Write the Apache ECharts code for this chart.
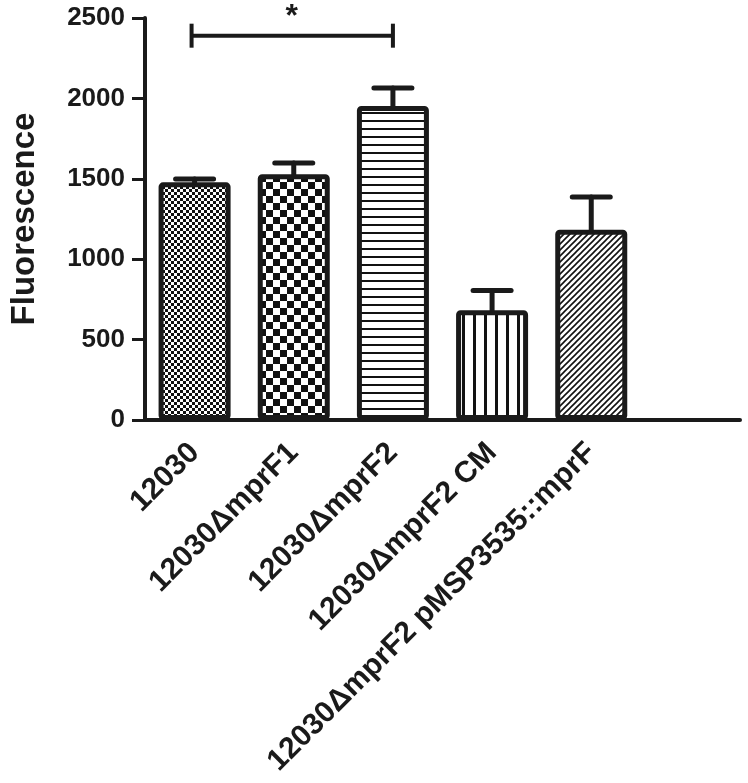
<!DOCTYPE html>
<html>
<head>
<meta charset="utf-8">
<title>Fluorescence</title>
<script src="https://cdn.jsdelivr.net/npm/echarts@6/dist/echarts.min.js"></script>
<style>
  html, body { margin: 0; padding: 0; background: #fff; }
  #main { width: 748px; height: 783px; }
</style>
</head>
<body>
<div id="main"></div>
<script>
// data
const strains = ['12030', '12030ΔmprF1', '12030ΔmprF2', '12030ΔmprF2 CM', '12030ΔmprF2 pMSP3535::mprF', ''];
const meanValues = [1478, 1528, 1953, 683, 1183, null];
const semValues = [20, 70, 112, 122, 204, null];
const yTicks = { min: 0, max: 2500, step: 500 };
// significance bracket: from category, to category, label
const sigPairs = [[0, 2, '*']];

const FONT = '"Liberation Sans", Arial, Helvetica, sans-serif';

// fill patterns (hatch/checker) drawn on small canvases
function makePattern(w, h, draw) {
  const c = document.createElement('canvas');
  c.width = w; c.height = h;
  const ctx = c.getContext('2d');
  ctx.fillStyle = '#fff';
  ctx.fillRect(0, 0, w, h);
  ctx.fillStyle = '#111';
  ctx.strokeStyle = '#111';
  draw(ctx, w, h);
  return { image: c, repeat: 'repeat' };
}
function checker(s) {
  return makePattern(s * 2, s * 2, (ctx) => {
    ctx.fillRect(0, 0, s, s);
    ctx.fillRect(s, s, s, s);
  });
}
const patterns = [
  checker(3),
  checker(7),
  makePattern(8, 8, (ctx) => { ctx.fillRect(0, 0, 8, 2); }),
  makePattern(11, 8, (ctx) => { ctx.fillRect(0, 0, 3, 8); }),
  makePattern(6, 6, (ctx) => {
    ctx.lineWidth = 1.6;
    ctx.beginPath();
    ctx.moveTo(-1, 7); ctx.lineTo(7, -1);
    ctx.moveTo(-4, 4); ctx.lineTo(4, -4);
    ctx.moveTo(2, 10); ctx.lineTo(10, 2);
    ctx.stroke();
  })
];

const chart = echarts.init(document.getElementById('main'));

const barData = meanValues.map((v, i) => v == null ? null : {
  value: v,
  itemStyle: { color: patterns[i] }
});
const errData = meanValues.map((v, i) => v == null ? null : [i, v, v + semValues[i]]);

const option = {
  animation: false,
  grid: { left: 143, right: 8, top: 18, bottom: 363 },
  xAxis: {
    type: 'category',
    data: strains,
    axisLine: { lineStyle: { color: '#1a1a1a', width: 4 } },
    axisTick: { alignWithLabel: true, length: 12, lineStyle: { color: '#1a1a1a', width: 3 } },
    axisLabel: {
      rotate: 45, interval: 0, margin: 28,
      color: '#1a1a1a', fontFamily: FONT, fontWeight: 'bold', fontSize: 30
    }
  },
  yAxis: {
    type: 'value',
    min: yTicks.min, max: yTicks.max, interval: yTicks.step,
    name: 'Fluorescence',
    nameLocation: 'middle',
    nameGap: 104,
    nameTextStyle: { color: '#1a1a1a', fontFamily: FONT, fontWeight: 'bold', fontSize: 33 },
    axisLine: { show: true, lineStyle: { color: '#1a1a1a', width: 4 } },
    axisTick: { show: true, length: 13, lineStyle: { color: '#1a1a1a', width: 3 } },
    axisLabel: {
      color: '#1a1a1a', fontFamily: FONT, fontWeight: 'bold', fontSize: 26, margin: 20,
      formatter: (v) => String(v)
    },
    splitLine: { show: false }
  },
  series: [
    {
      type: 'bar',
      data: barData,
      barWidth: 72,
      itemStyle: { borderColor: '#1a1a1a', borderWidth: 5, borderRadius: 2 }
    },
    {
      type: 'custom',
      data: errData,
      z: 3,
      renderItem: (params, api) => {
        const x = api.value(0);
        const lo = api.coord([x, api.value(1)]);
        const hi = api.coord([x, api.value(2)]);
        const half = 19;
        const st = { stroke: '#1a1a1a', lineWidth: 5, lineCap: 'round' };
        return {
          type: 'group',
          children: [
            { type: 'line', shape: { x1: lo[0], y1: lo[1], x2: hi[0], y2: hi[1] }, style: st },
            { type: 'line', shape: { x1: hi[0] - half, y1: hi[1], x2: hi[0] + half, y2: hi[1] }, style: st }
          ]
        };
      }
    },
    {
      type: 'custom',
      data: sigPairs.map(p => [p[0], p[1], 2390, p[2]]),
      clip: false,
      z: 4,
      renderItem: (params, api) => {
        const a = api.coord([api.value(0), api.value(2)]);
        const b = api.coord([api.value(1), api.value(2)]);
        const st = { stroke: '#1a1a1a', lineWidth: 4 };
        return {
          type: 'group',
          children: [
            { type: 'line', shape: { x1: a[0] - 3, y1: a[1], x2: b[0], y2: b[1] }, style: st },
            { type: 'line', shape: { x1: a[0] - 3, y1: a[1] - 12, x2: a[0] - 3, y2: a[1] + 12 }, style: st },
            { type: 'line', shape: { x1: b[0], y1: b[1] - 12, x2: b[0], y2: b[1] + 12 }, style: st },
            {
              type: 'text',
              x: (a[0] + b[0]) / 2 - 2, y: a[1] - 35,
              style: {
                text: sigPairs[params.dataIndex][2],
                fill: '#1a1a1a', font: 'bold 32px ' + FONT,
                align: 'center', verticalAlign: 'top'
              }
            }
          ]
        };
      }
    }
  ]
};

chart.setOption(option);
</script>
</body>
</html>
